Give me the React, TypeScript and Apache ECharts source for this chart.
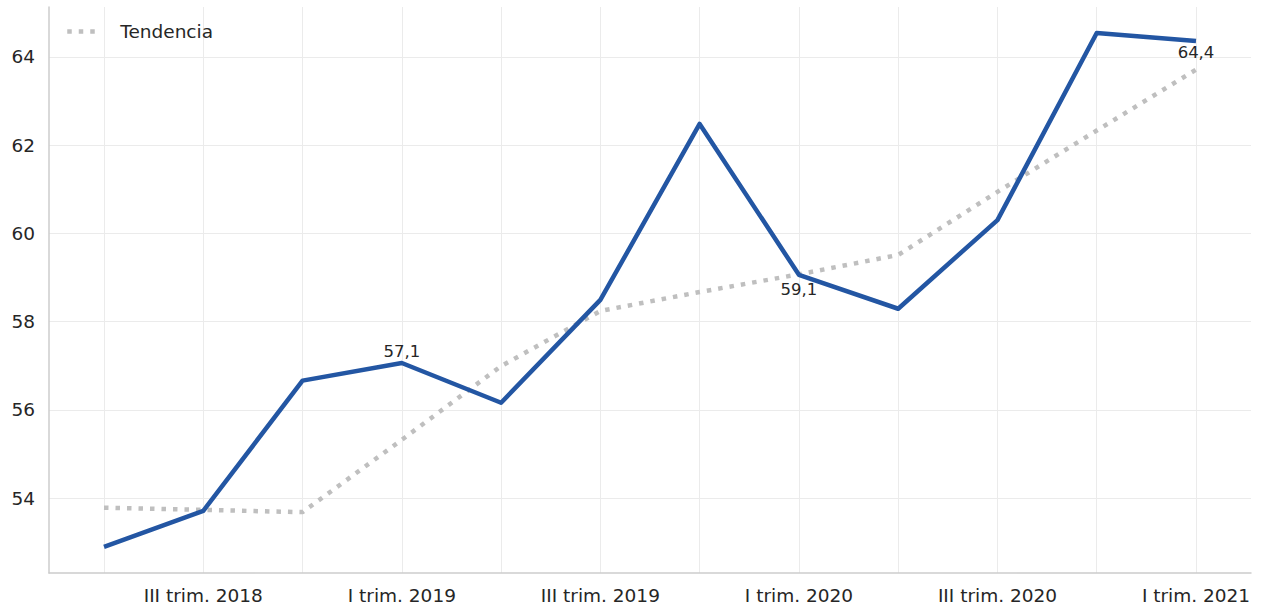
import React, { useEffect, useRef } from "react";
import * as echarts from "echarts";

const categories = [
  "II trim. 2018", "III trim. 2018", "IV trim. 2018",
  "I trim. 2019", "II trim. 2019", "III trim. 2019", "IV trim. 2019",
  "I trim. 2020", "II trim. 2020", "III trim. 2020", "IV trim. 2020",
  "I trim. 2021",
];
const seriesValues = [52.89, 53.71, 56.66, 57.06, 56.16, 58.49, 62.48, 59.06, 58.29, 60.3, 64.54, 64.36];
const trendValues = [53.78, 53.73, 53.68, 55.32, 56.99, 58.24, 58.67, 59.07, 59.51, 60.94, 62.33, 63.71];
const yTicks = [54, 56, 58, 60, 62, 64];
const labeledIdx = [3, 7, 11];
const labelPos: Record<number, [string, number]> = { 3: ["top", 3], 7: ["bottom", 6], 11: ["bottom", 3] };

const FONT = "DejaVu Sans";

export default function App() {
  const ref = useRef<HTMLDivElement>(null);
  useEffect(() => {
    if (!ref.current) return;
    const chart = echarts.init(ref.current, undefined, { renderer: "svg" });
    const xIdx = categories.map((_, i) => i);
    chart.setOption({
      animation: false,
      backgroundColor: "#ffffff",
      grid: { left: 49, right: 10, top: 7, bottom: 35, containLabel: false },
      legend: {
        data: [{ name: "Tendencia", itemStyle: { opacity: 0 } }],
        left: 60,
        top: 17,
        itemWidth: 34,
        itemHeight: 12,
        lineStyle: { width: 4.5, type: [4.5, 7], color: "#bfbfbf", cap: "butt" },
        textStyle: { fontFamily: FONT, fontSize: 18.5, color: "#262626", padding: [0, 0, 0, 14] },
      },
      xAxis: {
        type: "value",
        min: -0.554,
        max: 11.554,
        axisLine: { show: true, onZero: false, lineStyle: { color: "#cccccc", width: 1.5 } },
        axisTick: { show: false, customValues: xIdx },
        splitLine: { show: true, lineStyle: { color: "#ebebeb", width: 1 } },
        axisLabel: {
          customValues: xIdx.filter((i) => i % 2 === 1),
          formatter: (v: number) => categories[Math.round(v)],
          fontFamily: FONT,
          fontSize: 18.5,
          color: "#262626",
          margin: 13,
        },
      },
      yAxis: {
        type: "value",
        min: 52.3,
        max: 65.13,
        axisLine: { show: true, onZero: false, lineStyle: { color: "#cccccc", width: 1.5 } },
        axisTick: { show: false, customValues: yTicks },
        splitLine: { show: true, lineStyle: { color: "#ebebeb", width: 1 } },
        axisLabel: {
          customValues: yTicks,
          fontFamily: FONT,
          fontSize: 18.5,
          color: "#262626",
          margin: 14,
        },
      },
      series: [
        {
          name: "Tendencia",
          type: "line",
          data: trendValues.map((v, i) => [i, v]),
          symbol: "none",
          lineStyle: { color: "#bfbfbf", width: 4.5, type: [4.5, 7], cap: "butt" },
          itemStyle: { color: "#bfbfbf" },
          z: 2,
        },
        {
          name: "Serie",
          type: "line",
          data: seriesValues.map((v, i) => {
            if (labeledIdx.includes(i)) {
              const [pos, dist] = labelPos[i];
              return {
                value: [i, v],
                label: {
                  show: true,
                  position: pos,
                  distance: dist,
                  formatter: (p: any) => p.value[1].toFixed(1).replace(".", ","),
                  fontFamily: FONT,
                  fontSize: 16.5,
                  color: "#262626",
                },
              };
            }
            return [i, v];
          }),
          symbol: "circle",
          symbolSize: 0.1,
          showSymbol: true,
          showAllSymbol: true,
          lineStyle: { color: "#2356a3", width: 4.5, join: "round" },
          itemStyle: { color: "#2356a3" },
          z: 3,
        },
      ],
    });
    return () => chart.dispose();
  }, []);
  return <div ref={ref} style={{ width: 1261, height: 608, position: "absolute", left: 0, top: 0 }} />;
}
